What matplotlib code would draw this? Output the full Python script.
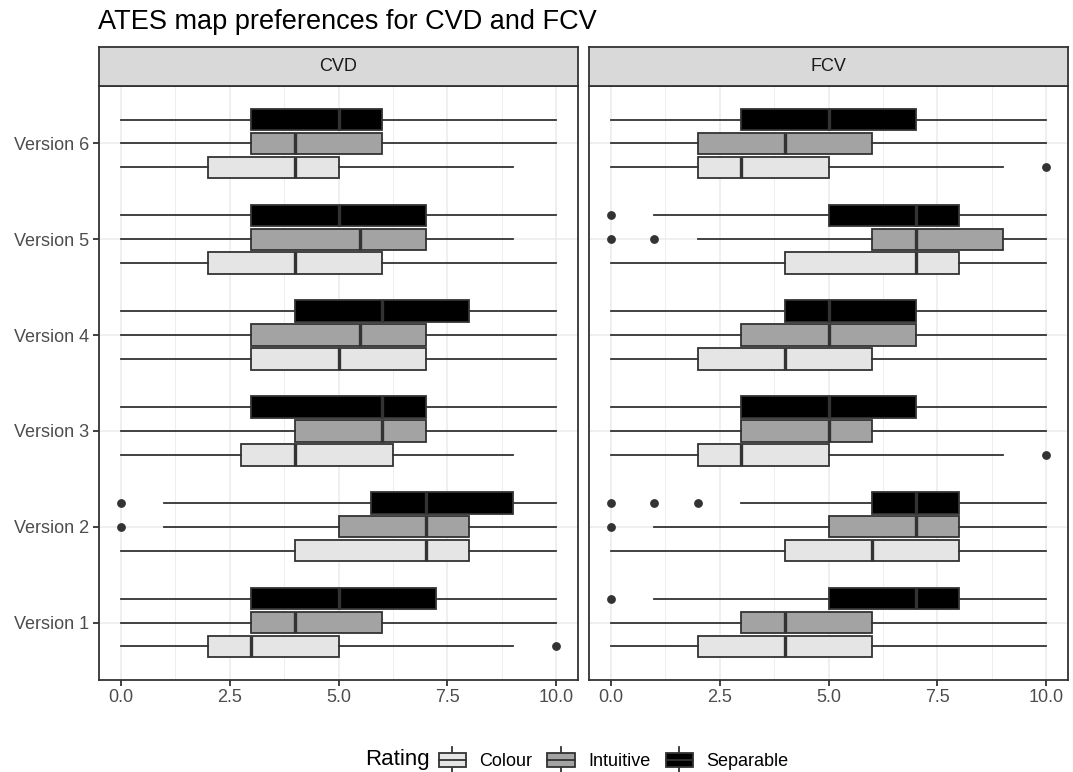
import numpy as np
import matplotlib
matplotlib.use('Agg')
import matplotlib.pyplot as plt
from matplotlib.patches import Rectangle
from matplotlib.lines import Line2D
from matplotlib.legend_handler import HandlerBase

plt.rcParams['font.family'] = ['Liberation Sans', 'DejaVu Sans']

versions = ['Version 1', 'Version 2', 'Version 3', 'Version 4', 'Version 5', 'Version 6']
ratings = ['Colour', 'Intuitive', 'Separable']
facets = ['CVD', 'FCV']

# five-number summaries per version (V1..V6): lower whisker, Q1, median, Q3, upper whisker
cvd_colour = [[0, 2, 3, 5, 9], [0, 4, 7, 8, 10], [0, 2.75, 4, 6.25, 9],
              [0, 3, 5, 7, 10], [0, 2, 4, 6, 10], [0, 2, 4, 5, 9]]
cvd_intuitive = [[0, 3, 4, 6, 10], [1, 5, 7, 8, 10], [0, 4, 6, 7, 10],
                 [0, 3, 5.5, 7, 10], [0, 3, 5.5, 7, 9], [0, 3, 4, 6, 10]]
cvd_separable = [[0, 3, 5, 7.25, 10], [1, 5.75, 7, 9, 10], [0, 3, 6, 7, 10],
                 [0, 4, 6, 8, 10], [0, 3, 5, 7, 10], [0, 3, 5, 6, 10]]
fcv_colour = [[0, 2, 4, 6, 10], [0, 4, 6, 8, 10], [0, 2, 3, 5, 9],
              [0, 2, 4, 6, 10], [0, 4, 7, 8, 10], [0, 2, 3, 5, 9]]
fcv_intuitive = [[0, 3, 4, 6, 10], [1, 5, 7, 8, 10], [0, 3, 5, 6, 10],
                 [0, 3, 5, 7, 10], [2, 6, 7, 9, 10], [0, 2, 4, 6, 10]]
fcv_separable = [[1, 5, 7, 8, 10], [3, 6, 7, 8, 10], [0, 3, 5, 7, 10],
                 [0, 4, 5, 7, 10], [1, 5, 7, 8, 10], [0, 3, 5, 7, 10]]

# outliers per version (V1..V6)
cvd_colour_out = [[10], [], [], [], [], []]
cvd_intuitive_out = [[], [0], [], [], [], []]
cvd_separable_out = [[], [0], [], [], [], []]
fcv_colour_out = [[], [], [10], [], [], [10]]
fcv_intuitive_out = [[], [0], [], [], [0, 1], []]
fcv_separable_out = [[0], [0, 1, 2], [], [], [0], []]

panel_data = {
    'CVD': [(cvd_colour, cvd_colour_out), (cvd_intuitive, cvd_intuitive_out),
            (cvd_separable, cvd_separable_out)],
    'FCV': [(fcv_colour, fcv_colour_out), (fcv_intuitive, fcv_intuitive_out),
            (fcv_separable, fcv_separable_out)],
}

fills = ['#E5E5E5', '#A3A3A3', '#000000']
offsets = [-0.25, 0.0, 0.25]
edge = '#333333'
lw = 1.3

W, H = 1073, 772
fig = plt.figure(figsize=(W / 100, H / 100), dpi=100)

panel_left = [99, 589]
panel_w = 479
panel_top, panel_bot = 86, 680
strip_top = 47


def fx(px):
    return px / W


def fy(py):
    return 1 - py / H


for k, facet in enumerate(facets):
    ax = fig.add_axes([fx(panel_left[k]), fy(panel_bot), fx(panel_w),
                       (panel_bot - panel_top) / H])
    ax.set_xlim(-0.5, 10.5)
    ax.set_ylim(0.4, 6.6)
    ax.set_xticks([0, 2.5, 5, 7.5, 10])
    ax.set_xticklabels(['0.0', '2.5', '5.0', '7.5', '10.0'])
    ax.set_xticks([1.25, 3.75, 6.25, 8.75], minor=True)
    ax.set_yticks(np.arange(1, 7))
    ax.set_yticklabels(versions if k == 0 else [])
    ax.grid(which='major', color='#EBEBEB', linewidth=1.1)
    ax.grid(which='minor', axis='x', color='#EBEBEB', linewidth=0.6)
    ax.set_axisbelow(True)
    ax.tick_params(which='major', length=4.3, width=lw, color=edge,
                   labelcolor='#4D4D4D', labelsize=13, pad=2.5)
    ax.tick_params(which='minor', length=0)
    if k == 1:
        ax.tick_params(axis='y', length=0)
    for sp in ax.spines.values():
        sp.set_color(edge)
        sp.set_linewidth(lw)

    for (vals, outs), fill, off in zip(panel_data[facet], fills, offsets):
        stats = [dict(whislo=s[0], q1=s[1], med=s[2], q3=s[3], whishi=s[4], fliers=o)
                 for s, o in zip(vals, outs)]
        ax.bxp(stats, positions=np.arange(1, 7) + off, widths=0.225,
               orientation='horizontal', patch_artist=True, showcaps=False,
               manage_ticks=False,
               boxprops=dict(facecolor=fill, edgecolor=edge, linewidth=lw),
               whiskerprops=dict(color=edge, linewidth=lw),
               medianprops=dict(color=edge, linewidth=2.4),
               flierprops=dict(marker='o', markerfacecolor=edge,
                               markeredgecolor=edge, markersize=5.3))

    # facet strip
    sax = fig.add_axes([fx(panel_left[k]), fy(panel_top), fx(panel_w),
                        (panel_top - strip_top) / H])
    sax.set_facecolor('#D9D9D9')
    sax.set_xticks([])
    sax.set_yticks([])
    for sp in sax.spines.values():
        sp.set_color(edge)
        sp.set_linewidth(lw)
    sax.text(0.5, 0.5, facet, ha='center', va='center', fontsize=13,
             color='#1A1A1A', transform=sax.transAxes)

fig.text(fx(98), fy(22), 'ATES map preferences for CVD and FCV',
         fontsize=19.5, ha='left', va='center', color='black')


class BoxKey(HandlerBase):
    def create_artists(self, legend, orig_handle, xdescent, ydescent,
                       width, height, fontsize, trans):
        x0, y0 = -xdescent, -ydescent
        cx = x0 + width / 2
        cy = y0 + height / 2
        fill = orig_handle.get_facecolor()
        lo = Line2D([cx, cx], [y0 + 0.05 * height, y0 + 0.25 * height],
                    color=edge, linewidth=lw, transform=trans)
        hi = Line2D([cx, cx], [y0 + 0.75 * height, y0 + 0.95 * height],
                    color=edge, linewidth=lw, transform=trans)
        box = Rectangle((x0 + 0.125 * width, y0 + 0.25 * height),
                        0.75 * width, 0.5 * height, facecolor=fill,
                        edgecolor=edge, linewidth=lw, transform=trans)
        med = Line2D([x0 + 0.125 * width, x0 + 0.875 * width], [cy, cy],
                     color=edge, linewidth=lw, transform=trans)
        return [lo, hi, box, med]


handles = [Rectangle((0, 0), 1, 1, facecolor=f) for f in fills]
fig.text(fx(365), fy(760), 'Rating', fontsize=16, ha='left', va='center')
fig.legend(handles, ratings, handler_map={Rectangle: BoxKey()},
           loc='center left', bbox_to_anchor=(fx(434), fy(760)), ncol=3,
           frameon=False, fontsize=13, handlelength=2.0, handleheight=2.0,
           handletextpad=0.5, columnspacing=0.6, borderpad=0, borderaxespad=0)

fig.savefig('out.png', dpi=100)
